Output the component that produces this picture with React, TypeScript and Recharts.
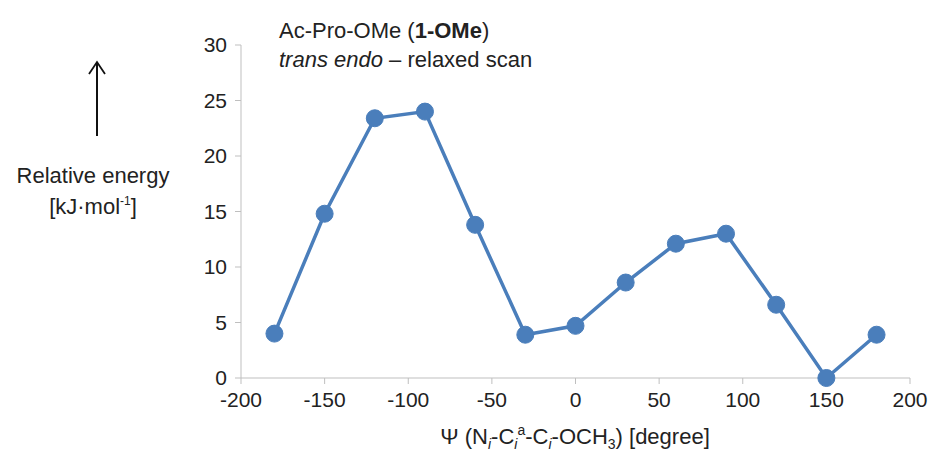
import { LineChart, Line, XAxis, YAxis } from 'recharts';

const psi = [-180, -150, -120, -90, -60, -30, 0, 30, 60, 90, 120, 150, 180];
const energy = [4.0, 14.8, 23.4, 24.0, 13.8, 3.9, 4.7, 8.6, 12.1, 13.0, 6.6, 0, 3.9];
const xTicks = [-200, -150, -100, -50, 0, 50, 100, 150, 200];
const yTicks = [0, 5, 10, 15, 20, 25, 30];

const data = psi.map((p, i) => ({ psi: p, energy: energy[i] }));

const FONT = '"Liberation Sans", Arial, sans-serif';
const BLUE = '#4a7ebb';
const sub = { fontSize: 14, lineHeight: 0, verticalAlign: 'baseline', position: 'relative' as const, top: 5 };
const sup = { fontSize: 14, lineHeight: 0, verticalAlign: 'baseline', position: 'relative' as const, top: -9 };

export default function App() {
  return (
    <div style={{ position: 'absolute', left: 0, top: 0, width: 930, height: 454, background: '#fff', fontFamily: FONT }}>
      <LineChart width={930} height={454} data={data} margin={{ top: 45, right: 20, bottom: 0, left: 0 }}>
        <XAxis
          dataKey="psi"
          type="number"
          domain={[-200, 200]}
          ticks={xTicks}
          height={76}
          stroke="#bfbfbf"
          tickSize={6}
          tick={{ fill: '#222', fontSize: 21, fontFamily: FONT }}
          tickMargin={8}
        />
        <YAxis
          type="number"
          domain={[0, 30]}
          ticks={yTicks}
          width={241}
          stroke="#bfbfbf"
          tickSize={6}
          tick={{ fill: '#222', fontSize: 21, fontFamily: FONT }}
          tickMargin={8}
        />
        <Line
          dataKey="energy"
          stroke={BLUE}
          strokeWidth={3.5}
          dot={{ r: 8.5, fill: BLUE, stroke: BLUE, strokeWidth: 1 }}
          isAnimationActive={false}
        />
      </LineChart>

      <div style={{ position: 'absolute', left: 279, top: 16, fontSize: 22, color: '#222', lineHeight: '29px' }}>
        <div>Ac-Pro-OMe (<b>1-OMe</b>)</div>
        <div><i>trans endo</i> – relaxed scan</div>
      </div>

      <svg style={{ position: 'absolute', left: 79, top: 57 }} width={36} height={82}>
        <line x1={18} y1={79} x2={18} y2={6} stroke="#111" strokeWidth={2} />
        <polyline points="10,17 18,5 26,17" fill="none" stroke="#111" strokeWidth={1.8} />
      </svg>

      <div style={{ position: 'absolute', left: 0, width: 186, top: 160, textAlign: 'center', fontSize: 22, color: '#222', lineHeight: '31px' }}>
        <div>Relative energy</div>
        <div>[kJ·mol<span style={{ ...sup, fontSize: 12 }}>-1</span>]</div>
      </div>

      <div style={{ position: 'absolute', left: 235, width: 680, top: 424, textAlign: 'center', fontSize: 22, color: '#222', lineHeight: '26px' }}>
        Ψ (N<span style={sub}><i>i</i></span>-C<span style={sub}><i>i</i></span><span style={sup}>a</span>-C<span style={sub}><i>i</i></span>-OCH<span style={sub}>3</span>) [degree]
      </div>
    </div>
  );
}
